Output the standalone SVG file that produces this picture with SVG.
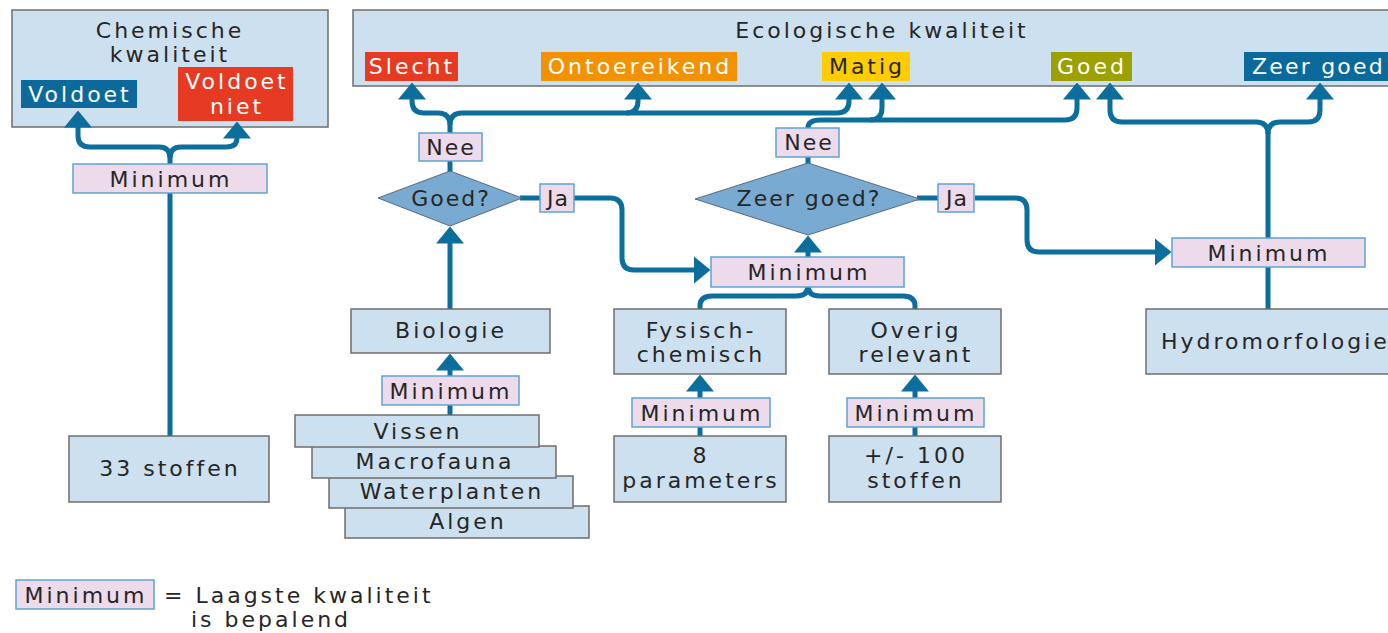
<svg xmlns="http://www.w3.org/2000/svg" width="1388" height="633" viewBox="0 0 1388 633">
<style>
text{font-family:"DejaVu Sans","Liberation Sans",sans-serif;font-size:22px;letter-spacing:3px;fill:#262626;text-anchor:middle}
.st{text-anchor:start}
.w{fill:#ffffff}
.box{fill:#cde0f0;stroke:#6e6e6e;stroke-width:1.5}
.min{fill:#eddaea;stroke:#5fa3d3;stroke-width:1.5}
.dia{fill:#79aad2;stroke:#5a6a7a;stroke-width:1}
.con{fill:none;stroke:#0b6e9d;stroke-width:5;marker-end:url(#ah)}
.ln{fill:none;stroke:#0b6e9d;stroke-width:5}
</style>
<defs>
<marker id="ah" markerUnits="userSpaceOnUse" markerWidth="17" markerHeight="30" viewBox="0 0 17 30" refX="0.5" refY="15" orient="auto">
<path d="M0,1 L17,15 L0,29 Z" fill="#0b6e9d"/>
</marker>
</defs>

<g id="chem-frame">
<rect class="box" x="12" y="10" width="316" height="117"/>
<text x="170" y="38">Chemische</text>
<text x="170" y="62">kwaliteit</text>
</g>
<g id="eco-frame">
<rect class="box" x="353" y="10" width="1045" height="76"/>
<text x="882" y="38">Ecologische kwaliteit</text>
</g>

<g id="connectors">
<path class="con" d="M170,436 L170,158 Q170,147 159,147 L90,147 Q78,147 78,136 L78,127"/>
<path class="con" d="M170,158 Q170,147 181,147 L226,147 Q237,147 237,138"/>
<path class="con" d="M450,133 L450,125 Q450,113 438,113 L424,113 Q412,113 412,101 L412,99"/>
<path class="con" d="M450,125 Q450,113 462,113 L837,113 Q849,113 849,101 L849,99"/>
<path class="con" d="M626,113 Q638,113 638,101 L638,99"/>
<path class="con" d="M808,128 Q808,120 820,120 L1065,120 Q1077,120 1077,108 L1077,99"/>
<path class="con" d="M870,120 Q882,120 882,108 L882,99"/>
<path class="con" d="M1268,309 L1268,134 Q1268,122 1256,122 L1122,122 Q1110,122 1110,110 L1110,99"/>
<path class="con" d="M1268,134 Q1268,122 1280,122 L1308,122 Q1320,122 1320,110 L1320,99"/>
<path class="ln" d="M450,160 L450,172"/>
<path class="con" d="M450,309 L450,243"/>
<path class="ln" d="M520,198 L541,198"/>
<path class="con" d="M574,198 L610,198 Q622,198 622,210 L622,258 Q622,270 634,270 L694,270"/>
<path class="ln" d="M808,156 L808,164"/>
<path class="con" d="M808,258 L808,252"/>
<path class="ln" d="M917,198 L938,198"/>
<path class="con" d="M975,198 L1015,198 Q1027,198 1027,210 L1027,240 Q1027,252 1039,252 L1155,252"/>
<path class="ln" d="M808,286 Q808,296 796,296 L712,296 Q700,296 700,306 L700,310"/>
<path class="ln" d="M808,286 Q808,296 820,296 L903,296 Q915,296 915,306 L915,310"/>
<path class="con" d="M450,415 L450,370"/>
<path class="con" d="M700,436 L700,391"/>
<path class="con" d="M915,436 L915,391"/>
</g>

<g id="voldoet"><rect x="21" y="80" width="116" height="28" fill="#0b6a9b"/><text class="w" x="80" y="102">Voldoet</text></g>
<g id="voldoet-niet"><rect x="178" y="67" width="115" height="54" fill="#e63b22"/><text class="w" x="237" y="89">Voldoet</text><text class="w" x="237" y="114">niet</text></g>
<g id="min-chem"><rect class="min" x="73" y="164" width="194" height="29"/><text x="171" y="187">Minimum</text></g>
<g id="stoffen33"><rect class="box" x="69" y="436" width="200" height="66"/><text x="170" y="476">33 stoffen</text></g>

<g id="slecht"><rect x="365" y="52" width="93" height="29" fill="#e63b22"/><text class="w" x="412" y="74">Slecht</text></g>
<g id="ontoereikend"><rect x="541" y="52" width="196" height="29" fill="#f39200"/><text class="w" x="640" y="74">Ontoereikend</text></g>
<g id="matig"><rect x="822" y="52" width="88" height="29" fill="#fecc00"/><text x="867" y="74">Matig</text></g>
<g id="goed"><rect x="1051" y="52" width="81" height="29" fill="#9ca000"/><text class="w" x="1092" y="74">Goed</text></g>
<g id="zeer-goed"><rect x="1244" y="52" width="150" height="29" fill="#0b6a9b"/><text class="w st" x="1252" y="74" style="letter-spacing:2.2px">Zeer goed</text></g>

<g id="nee1"><rect class="min" x="419" y="133" width="63" height="28"/><text x="451" y="155" style="letter-spacing:2px">Nee</text></g>
<g id="goed-q"><polygon class="dia" points="378,198 450,171 522,198 450,226"/><text x="451" y="206" style="letter-spacing:2px">Goed?</text></g>
<g id="ja1"><rect class="min" x="540" y="184" width="34" height="28"/><text x="558" y="206" style="letter-spacing:1px">Ja</text></g>

<g id="nee2"><rect class="min" x="776" y="128" width="63" height="29"/><text x="809" y="150" style="letter-spacing:2px">Nee</text></g>
<g id="zeer-goed-q"><polygon class="dia" points="695,199 808,163 920,199 808,235"/><text x="809" y="206" style="letter-spacing:2px">Zeer goed?</text></g>
<g id="ja2"><rect class="min" x="938" y="184" width="36" height="28"/><text x="957" y="206" style="letter-spacing:1px">Ja</text></g>

<g id="min-mid"><rect class="min" x="711" y="257" width="193" height="30"/><text x="809" y="280">Minimum</text></g>
<g id="min-right"><rect class="min" x="1172" y="238" width="193" height="29"/><text x="1269" y="261">Minimum</text></g>

<g id="biologie"><rect class="box" x="351" y="309" width="199" height="44"/><text x="451" y="338">Biologie</text></g>
<g id="fysisch"><rect class="box" x="614" y="309" width="172" height="65"/><text x="701" y="338">Fysisch-</text><text x="701" y="362">chemisch</text></g>
<g id="overig"><rect class="box" x="829" y="309" width="172" height="65"/><text x="916" y="338">Overig</text><text x="916" y="362">relevant</text></g>
<g id="hydro"><rect class="box" x="1146" y="309" width="250" height="65"/><text class="st" x="1161" y="349">Hydromorfologie</text></g>

<g id="min-bio"><rect class="min" x="382" y="376" width="137" height="29"/><text x="451" y="399">Minimum</text></g>
<g id="min-fys"><rect class="min" x="632" y="398" width="138" height="29"/><text x="702" y="421">Minimum</text></g>
<g id="min-ov"><rect class="min" x="847" y="398" width="137" height="29"/><text x="916" y="421">Minimum</text></g>

<g id="algen"><rect class="box" x="345" y="506" width="244" height="32"/><text x="468" y="529">Algen</text></g>
<g id="waterplanten"><rect class="box" x="329" y="476" width="244" height="32"/><text x="452" y="499">Waterplanten</text></g>
<g id="macrofauna"><rect class="box" x="312" y="446" width="244" height="32"/><text x="435" y="469">Macrofauna</text></g>
<g id="vissen"><rect class="box" x="295" y="415" width="244" height="32"/><text x="418" y="439">Vissen</text></g>

<g id="param8"><rect class="box" x="614" y="436" width="172" height="66"/><text x="701" y="463">8</text><text x="701" y="488">parameters</text></g>
<g id="stoffen100"><rect class="box" x="829" y="436" width="172" height="66"/><text x="916" y="463">+/- 100</text><text x="916" y="488">stoffen</text></g>

<g id="legend">
<rect class="min" x="16" y="580" width="138" height="29"/><text x="86" y="603">Minimum</text>
<text class="st" x="164" y="603">= Laagste kwaliteit</text>
<text class="st" x="191" y="627">is bepalend</text>
</g>
</svg>
